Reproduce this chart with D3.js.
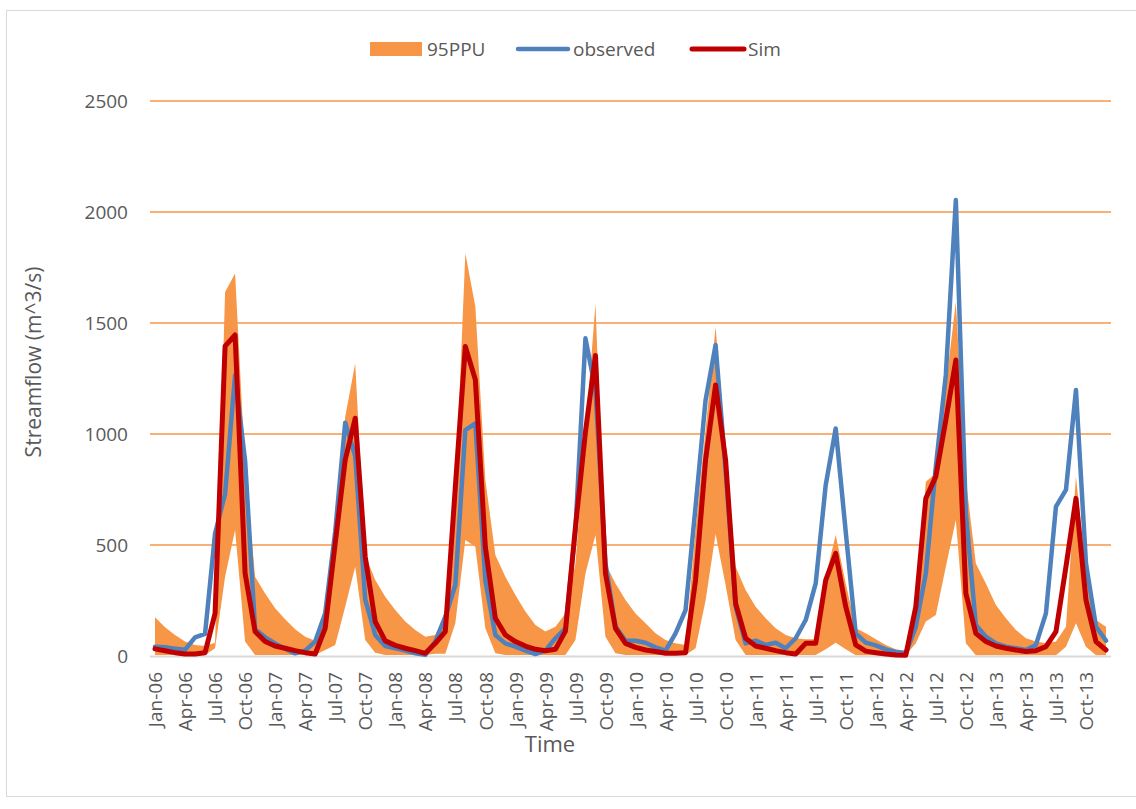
<!DOCTYPE html>
<html>
<head>
<meta charset="utf-8">
<script src="https://cdn.jsdelivr.net/npm/d3@7"></script>
<style>
  body { margin: 0; background: #fff; }
  svg { display: block; font-family: "Open Sans", sans-serif; }
</style>
</head>
<body>
<div id="chart"></div>
<script>
// month names and years used for the category axis
const monthNames = ["Jan", "Feb", "Mar", "Apr", "May", "Jun", "Jul", "Aug", "Sep", "Oct", "Nov", "Dec"];
const years = ["06", "07", "08", "09", "10", "11", "12", "13"];
const categories = years.flatMap(y => monthNames.map(m => `${m}-${y}`));

const yTicks = [0, 500, 1000, 1500, 2000, 2500];

// observed streamflow (m^3/s), Jan-06 .. Dec-13
const observed = [
  42, 39, 33, 28, 84, 100, 552, 730, 1265, 880, 120, 84,
  57, 32, 12, 24, 65, 192, 560, 1051, 900, 255, 95, 45,
  35, 24, 12, 5, 65, 177, 320, 1018, 1048, 340, 95, 57,
  42, 24, 9, 24, 80, 125, 567, 1431, 1198, 417, 132, 70,
  69, 60, 39, 24, 102, 207, 673, 1153, 1401, 838, 222, 57,
  69, 50, 60, 35, 80, 162, 327, 770, 1025, 560, 102, 60,
  48, 30, 18, 12, 132, 372, 853, 1266, 2054, 643, 140, 87,
  57, 42, 35, 27, 50, 192, 673, 748, 1198, 417, 132, 69
];

// simulated streamflow
const sim = [
  32, 24, 15, 9, 9, 15, 192, 1396, 1446, 372, 110, 65,
  45, 35, 24, 15, 9, 125, 507, 883, 1071, 447, 155, 68,
  48, 35, 24, 12, 57, 110, 760, 1394, 1245, 490, 170, 95,
  65, 45, 30, 24, 30, 112, 580, 1010, 1354, 372, 125, 57,
  39, 27, 20, 12, 12, 15, 342, 883, 1221, 883, 237, 80,
  45, 35, 24, 15, 9, 57, 57, 342, 462, 222, 50, 22,
  15, 9, 5, 3, 222, 710, 808, 1063, 1333, 282, 102, 65,
  45, 35, 27, 20, 24, 42, 110, 402, 710, 252, 65, 27
];

// 95PPU band, upper and lower bounds
const ppuUpper = [
  174, 129, 95, 65, 50, 45, 60, 1640, 1723, 850, 357, 282,
  215, 165, 120, 87, 69, 192, 567, 1078, 1318, 455, 342, 267,
  207, 155, 117, 87, 95, 192, 718, 1814, 1574, 793, 455, 357,
  275, 200, 140, 110, 132, 192, 417, 1003, 1586, 417, 327, 252,
  192, 147, 102, 72, 57, 50, 567, 1018, 1483, 943, 402, 297,
  222, 170, 125, 95, 80, 75, 75, 357, 545, 327, 125, 102,
  75, 50, 30, 24, 162, 785, 823, 1213, 1596, 793, 417, 327,
  230, 170, 117, 80, 65, 57, 65, 132, 808, 372, 162, 132
];
const ppuLower = [
  5, 5, 5, 5, 5, 5, 35, 357, 568, 65, 5, 5,
  5, 5, 5, 5, 5, 27, 50, 222, 402, 72, 15, 5,
  5, 5, 5, 5, 10, 10, 147, 522, 492, 125, 12, 5,
  5, 5, 5, 5, 5, 5, 72, 372, 545, 87, 12, 5,
  5, 5, 5, 5, 5, 5, 35, 250, 550, 320, 72, 5,
  5, 5, 5, 5, 5, 5, 5, 30, 60, 30, 3, 3,
  3, 3, 3, 3, 57, 155, 185, 402, 613, 57, 3, 3,
  3, 3, 3, 3, 3, 3, 3, 42, 147, 42, 3, 3
];

const colors = {
  band: "#F79646",
  observed: "#4F81BD",
  sim: "#C00000",
  grid: "#F79646",
  axis: "#D9D9D9",
  text: "#595959"
};

const width = 1136, height = 809;
const plot = { left: 150, right: 1111, top: 101, bottom: 656 };

const svg = d3.select("#chart").append("svg")
  .attr("width", width)
  .attr("height", height);

// chart frame
svg.append("rect")
  .attr("x", 6.5).attr("y", 10.5)
  .attr("width", 1140).attr("height", 786)
  .attr("fill", "none")
  .attr("stroke", "#D9D9D9");

const x = d3.scalePoint()
  .domain(categories)
  .range([plot.left, plot.right])
  .padding(0.5);

const y = d3.scaleLinear()
  .domain([0, 2500])
  .range([plot.bottom, plot.top]);

// gridlines
svg.append("g")
  .selectAll("line")
  .data(yTicks.filter(d => d > 0))
  .enter().append("line")
    .attr("x1", plot.left).attr("x2", plot.right)
    .attr("y1", d => y(d)).attr("y2", d => y(d))
    .attr("stroke", colors.grid)
    .attr("stroke-width", 1.6);

// y axis labels
const yAxis = svg.append("g")
  .attr("transform", `translate(${plot.left - 22},0)`)
  .call(d3.axisLeft(y).tickValues(yTicks).tickFormat(d3.format("d")).tickSize(0).tickPadding(0));
yAxis.select(".domain").remove();
yAxis.selectAll("text")
  .attr("font-family", "Open Sans, sans-serif")
  .attr("font-size", 19)
  .attr("fill", colors.text);

// 95PPU band
const idx = d3.range(categories.length);
svg.append("path")
  .datum(idx)
  .attr("fill", colors.band)
  .attr("d", d3.area()
    .x(i => x(categories[i]))
    .y0(i => y(ppuLower[i]))
    .y1(i => y(ppuUpper[i])));

// x axis
const xAxis = svg.append("g")
  .attr("transform", `translate(0,${plot.bottom})`)
  .call(d3.axisBottom(x)
    .tickValues(categories.filter((d, i) => i % 3 === 0))
    .tickSize(0));
xAxis.select(".domain")
  .attr("d", `M${plot.left},0.5H${plot.right}`)
  .attr("stroke", colors.axis)
  .attr("stroke-width", 2);
xAxis.selectAll("text")
  .attr("font-family", "Open Sans, sans-serif")
  .attr("font-size", 19)
  .attr("fill", colors.text)
  .attr("text-anchor", "end")
  .attr("transform", "rotate(-90)")
  .attr("x", -16)
  .attr("y", 0)
  .attr("dy", "0.35em");

// series lines
const line = values => d3.line()
  .x((d, i) => x(categories[i]))
  .y(d => y(d))(values);

svg.append("path")
  .attr("d", line(observed))
  .attr("fill", "none")
  .attr("stroke", colors.observed)
  .attr("stroke-width", 4.5)
  .attr("stroke-linejoin", "round")
  .attr("stroke-linecap", "round");

svg.append("path")
  .attr("d", line(sim))
  .attr("fill", "none")
  .attr("stroke", colors.sim)
  .attr("stroke-width", 5)
  .attr("stroke-linejoin", "round")
  .attr("stroke-linecap", "round");

// axis titles
svg.append("text")
  .attr("transform", "translate(41,362) rotate(-90)")
  .attr("text-anchor", "middle")
  .attr("font-size", 21)
  .attr("fill", colors.text)
  .text("Streamflow (m^3/s)");

svg.append("text")
  .attr("x", 550).attr("y", 752)
  .attr("text-anchor", "middle")
  .attr("font-size", 22)
  .attr("fill", colors.text)
  .text("Time");

// legend
const legend = svg.append("g").attr("font-size", 19).attr("fill", colors.text);
legend.append("rect")
  .attr("x", 370).attr("y", 42).attr("width", 52).attr("height", 14)
  .attr("fill", colors.band);
legend.append("text").attr("x", 427).attr("y", 49).attr("dy", "0.35em").text("95PPU");

legend.append("line")
  .attr("x1", 518).attr("x2", 568).attr("y1", 49).attr("y2", 49)
  .attr("stroke", colors.observed).attr("stroke-width", 4.5).attr("stroke-linecap", "round");
legend.append("text").attr("x", 573).attr("y", 49).attr("dy", "0.35em").text("observed");

legend.append("line")
  .attr("x1", 692).attr("x2", 744).attr("y1", 49).attr("y2", 49)
  .attr("stroke", colors.sim).attr("stroke-width", 5).attr("stroke-linecap", "round");
legend.append("text").attr("x", 748).attr("y", 49).attr("dy", "0.35em").text("Sim");
</script>
</body>
</html>
